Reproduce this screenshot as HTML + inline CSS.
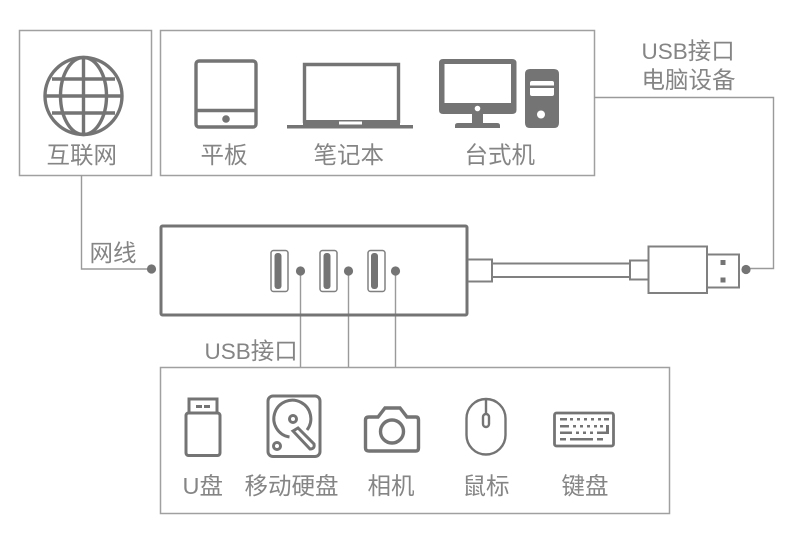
<!DOCTYPE html>
<html lang="zh">
<head>
<meta charset="utf-8">
<title>USB Hub</title>
<style>
html,body{margin:0;padding:0;background:#fff;width:790px;height:550px;overflow:hidden}
svg{display:block;filter:blur(.35px)}
text{font-family:"Liberation Sans","Noto Sans CJK SC",sans-serif;font-size:23.5px;fill:#858585}
tspan{font-size:22.5px}
.b{fill:none;stroke:#a0a0a0;stroke-width:1.5}
.l{fill:none;stroke:#9a9a9a;stroke-width:1.4}
.i{fill:none;stroke:#747474;stroke-width:3.4}
.f{fill:#747474}
</style>
</head>
<body>
<svg width="790" height="550" viewBox="0 0 790 550" xmlns="http://www.w3.org/2000/svg">
<rect width="790" height="550" fill="#fff"/>

<!-- Boxes -->
<rect class="b" x="19.5" y="30.5" width="132" height="145"/>
<rect class="b" x="160.5" y="30.5" width="434" height="145"/>
<rect class="b" x="160.5" y="367.5" width="509" height="146"/>

<!-- Connectors -->
<path class="l" d="M81.5 175V269H151"/>
<path class="l" d="M594 97.500H773.500V268.500H746"/>
<path class="l" d="M300.500 271V367M348.500 271V367M395.500 271V367"/>

<!-- Globe -->
<g class="i">
<circle cx="83.500" cy="96" r="38.500"/>
<ellipse cx="83.500" cy="96" rx="23" ry="38.500"/>
<path d="M83.500 57.500V134.500M45 96H122M52 79H115M52 113H115"/>
</g>

<!-- Tablet -->
<rect class="i" x="196" y="61" width="60" height="66" rx="3"/>
<path class="i" d="M196 110.500H256"/>
<circle class="f" cx="226" cy="119" r="3.800"/>

<!-- Laptop -->
<path class="i" d="M304.500 123V64.500H398.500V123"/>
<path class="f" d="M303 120H400V125H413V128.500H287V125H303Z"/>
<rect x="339" y="121.500" width="23" height="3" fill="#fff"/>

<!-- Desktop -->
<path class="f" fill-rule="evenodd" d="M443 59H512Q516.500 59 516.500 63V110Q516.500 114 512 114H443Q439 114 439 110V63Q439 59 443 59ZM444.500 64V103H511V64Z"/>
<circle cx="477.500" cy="108.500" r="2.800" fill="#fff"/>
<path class="f" d="M472 114H483V123H497Q500 123 500 125.500V128H455V125.500Q455 123 458 123H472Z"/>
<path class="f" fill-rule="evenodd" d="M530 69H554Q559 69 559 74V123Q559 128 554 128H530Q525 128 525 123V74Q525 69 530 69ZM532 81Q530 81 530 83V85.500H554V83Q554 81 552 81ZM530 88V94Q530 96 532 96H552Q554 96 554 94V88Z"/>
<circle cx="541" cy="114.500" r="4" fill="#fff"/>

<!-- Hub -->
<rect x="161" y="226" width="306" height="89" rx="1.500" fill="none" stroke="#747474" stroke-width="3"/>
<g fill="none" stroke="#808080" stroke-width="1.500">
<rect x="271" y="250.500" width="17" height="41" rx="2.500"/>
<rect x="320" y="250.500" width="17" height="41" rx="2.500"/>
<rect x="368" y="250.500" width="17" height="41" rx="2.500"/>
</g>
<g class="f">
<rect x="274.500" y="253" width="7" height="36" rx="3"/>
<rect x="323.500" y="253" width="7" height="36" rx="3"/>
<rect x="371" y="253" width="7" height="36" rx="3"/>
<circle cx="300.500" cy="271" r="4.600"/>
<circle cx="348.500" cy="271" r="4.600"/>
<circle cx="395.500" cy="271" r="4.600"/>
<circle cx="151.500" cy="269" r="4.600"/>
<circle cx="746" cy="269.500" r="4.600"/>
</g>

<!-- Cable and plug -->
<g fill="none" stroke="#808080" stroke-width="2">
<path d="M468 259.500H492V281.500H468"/>
<path d="M492 263.500H630M492 277H630"/>
<rect x="630" y="260.500" width="18.500" height="19"/>
<rect x="648.500" y="246.500" width="58.500" height="46.500"/>
<rect x="707" y="254.500" width="32" height="33"/>
</g>
<rect class="f" x="720.500" y="260" width="5" height="5"/>
<rect class="f" x="720.500" y="277.500" width="5" height="5"/>

<!-- U disk -->
<g class="i" style="stroke-width:3">
<rect x="189" y="399" width="28" height="14"/>
<rect x="186" y="413" width="34" height="42.500" rx="2.500"/>
</g>
<rect class="f" x="196" y="405" width="6" height="3"/>
<rect class="f" x="204" y="405" width="6" height="3"/>

<!-- Hard disk -->
<g class="i" style="stroke-width:3">
<rect x="268" y="396" width="52" height="60.500" rx="5"/>
<path d="M289.500 437A18.500 18.500 0 1 1 307 430"/>
<circle cx="293" cy="419" r="3.500"/>
<circle cx="277" cy="446" r="3.500"/>
<path d="M293 431L298 428L314 444Q315 449 310 449Z"/>
</g>

<!-- Camera -->
<g class="i">
<path d="M369 417H378L385 408H400L407 417H416Q418.500 417 418.500 420V448Q418.500 451 416 451H369Q365.500 451 365.500 448V420Q365.500 417 369 417Z"/>
<circle cx="392" cy="431.500" r="11.500"/>
</g>

<!-- Mouse -->
<g class="i" style="stroke-width:2.400">
<rect x="466.500" y="399" width="39" height="55.500" rx="19.500"/>
<path d="M486 399V413"/>
<rect x="483" y="414" width="6" height="13" rx="3"/>
</g>

<!-- Keyboard -->
<rect class="i" x="554.500" y="413" width="59" height="33" rx="2" style="stroke-width:2.800"/>
<g class="f">
<rect x="560" y="418" width="7" height="2.500"/><rect x="570" y="418" width="3" height="2.500"/><rect x="577" y="418" width="3" height="2.500"/><rect x="584" y="418" width="3" height="2.500"/><rect x="591" y="418" width="3" height="2.500"/><rect x="598" y="418" width="3" height="2.500"/><rect x="604" y="418" width="5" height="2.500"/>
<rect x="560" y="425" width="9" height="2.500"/><rect x="573" y="425" width="3" height="2.500"/><rect x="580" y="425" width="3" height="2.500"/><rect x="587" y="425" width="3" height="2.500"/><rect x="594" y="425" width="3" height="2.500"/><rect x="600" y="425" width="3" height="2.500"/><rect x="606" y="425" width="3" height="9"/>
<rect x="560" y="431.500" width="12" height="2.500"/><rect x="576" y="431.500" width="3" height="2.500"/><rect x="583" y="431.500" width="3" height="2.500"/><rect x="590" y="431.500" width="3" height="2.500"/><rect x="597" y="431.500" width="12" height="2.500"/>
<rect x="560" y="438" width="6" height="2.500"/><rect x="570" y="438" width="23" height="2.500"/><rect x="597" y="438" width="6" height="2.500"/>
</g>

<!-- Labels -->
<text x="46.500" y="163">互联网</text>
<text x="200.500" y="163">平板</text>
<text x="313.500" y="163">笔记本</text>
<text x="464.500" y="163">台式机</text>
<text x="641.500" y="59"><tspan>USB</tspan>接口</text>
<text x="641.500" y="88">电脑设备</text>
<text x="89.500" y="261">网线</text>
<text x="204.500" y="359"><tspan>USB</tspan>接口</text>
<text x="182.500" y="494">U盘</text>
<text x="244.500" y="494">移动硬盘</text>
<text x="367.500" y="494">相机</text>
<text x="462.500" y="494">鼠标</text>
<text x="561.500" y="494">键盘</text>
</svg>
</body>
</html>
